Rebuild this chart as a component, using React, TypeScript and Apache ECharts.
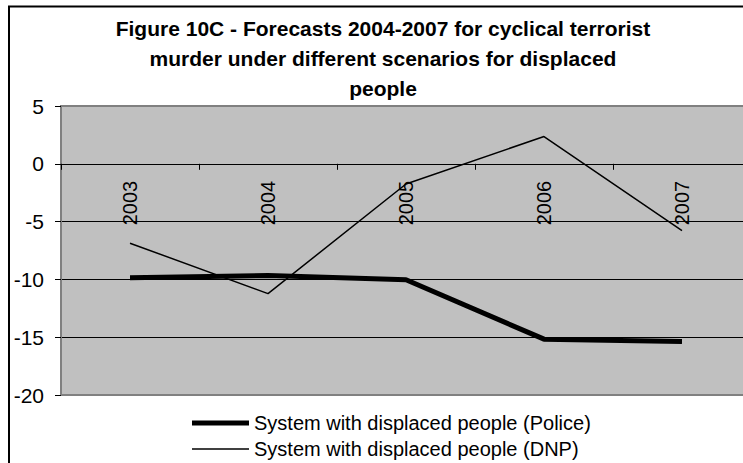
import React, { useEffect, useRef } from "react";
import * as echarts from "echarts";

const categories = ["2003", "2004", "2005", "2006", "2007"];
const policeValues = [-9.85, -9.66, -10.03, -15.17, -15.37];
const dnpValues = [-6.87, -11.23, -1.75, 2.36, -5.78];
const seriesNames = [
  "System with displaced people (Police)",
  "System with displaced people (DNP)",
];
const titleLines = [
  "Figure 10C - Forecasts 2004-2007 for cyclical terrorist",
  "murder under different scenarios for displaced",
  "people",
];
const yMin = -20;
const yMax = 5;
const yStep = 5;

const FONT = "'Liberation Sans', Arial, sans-serif";

export default function App() {
  const ref = useRef<HTMLDivElement>(null);
  useEffect(() => {
    if (!ref.current) return;
    const chart = echarts.init(ref.current, null, { renderer: "svg" });
    const gridTop = 106;
    const gridBottomY = 395;
    const zeroY = gridTop + ((gridBottomY - gridTop) * (yMax - 0)) / (yMax - yMin);
    chart.setOption({
      animation: false,
      backgroundColor: "#ffffff",
      title: {
        text: titleLines.join("\n"),
        left: "center",
        top: 8,
        textStyle: {
          fontFamily: FONT,
          fontWeight: "bold",
          fontSize: 21,
          lineHeight: 30,
          color: "#000",
        },
      },
      graphic: [
        {
          type: "rect",
          shape: { x: 9, y: 6.5, width: 748, height: 466 },
          style: { fill: "none", stroke: "#000", lineWidth: 2 },
          silent: true,
          z: 100,
        },
      ],
      legend: {
        orient: "vertical",
        left: 187,
        top: 408,
        itemWidth: 57,
        itemHeight: 20,
        itemGap: 6,
        symbolKeepAspect: true,
        textStyle: { fontFamily: FONT, fontSize: 20, color: "#000" },
        data: [
          { name: seriesNames[0], icon: "path://M0,0h56v5h-56z" },
          { name: seriesNames[1], icon: "path://M0,0h56v1.5h-56z" },
        ],
      },
      grid: {
        left: 61,
        right: 15,
        top: gridTop,
        bottom: 480 - gridBottomY,
        show: true,
        backgroundColor: "#C0C0C0",
        borderColor: "#808080",
        borderWidth: 2,
      },
      xAxis: {
        type: "category",
        data: categories,
        boundaryGap: true,
        offset: -(gridBottomY - zeroY),
        axisLine: { show: true, onZero: false, lineStyle: { color: "#000", width: 1 } },
        axisTick: { show: true, length: 6, lineStyle: { color: "#000" } },
        axisLabel: {
          rotate: 90,
          margin: 17,
          fontFamily: FONT,
          fontSize: 20,
          color: "#000",
        },
        splitLine: { show: false },
      },
      yAxis: {
        type: "value",
        min: yMin,
        max: yMax,
        interval: yStep,
        axisLine: { show: true, lineStyle: { color: "#808080", width: 2 } },
        axisTick: { show: true, length: 6, lineStyle: { color: "#000" } },
        axisLabel: {
          margin: 17,
          fontFamily: FONT,
          fontSize: 21,
          color: "#000",
        },
        splitLine: {
          show: true,
          lineStyle: {
            color: ["#808080", "#000", "#000", "#000", "#000", "#808080"],
            width: 1,
          },
        },
      },
      series: [
        {
          name: seriesNames[0],
          type: "line",
          data: policeValues,
          symbol: "none",
          lineStyle: { color: "#000", width: 5 },
          itemStyle: { color: "#000" },
          z: 3,
        },
        {
          name: seriesNames[1],
          type: "line",
          data: dnpValues,
          symbol: "none",
          lineStyle: { color: "#000", width: 1.5 },
          itemStyle: { color: "#000" },
          z: 4,
        },
      ],
    });
    return () => chart.dispose();
  }, []);
  return (
    <div
      style={{
        position: "fixed",
        left: 0,
        top: 0,
        width: 743,
        height: 463,
        overflow: "hidden",
        background: "#fff",
      }}
    >
      <div ref={ref} style={{ width: 766, height: 480 }} />
    </div>
  );
}
